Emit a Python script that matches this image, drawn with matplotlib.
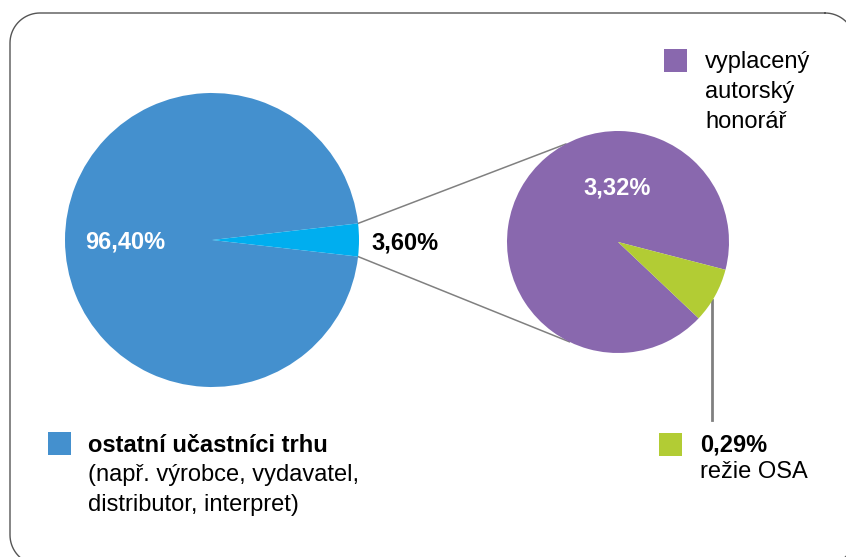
#!/usr/bin/env python3
"""Pie-of-pie: share of author royalties in the market."""

import numpy as np
import matplotlib

matplotlib.use("Agg")
import matplotlib.pyplot as plt  # noqa: E402
from matplotlib.patches import Rectangle  # noqa: E402

# data
main_labels = ["ostatní učastníci trhu", "ostatní"]
main_values = [96.40, 3.60]
main_text = ["96,40%", "3,60%"]
sub_values = [3.32, 0.29]
sub_text = ["3,32%", "0,29%"]

BLUE = "#4490CE"
CYAN = "#00AEEF"
PURPLE = "#8968AE"
GREEN = "#B2CC34"
GRAY = "#808080"

W, H = 846, 557
plt.rcParams["font.family"] = ["Liberation Sans", "DejaVu Sans"]

fig = plt.figure(figsize=(W / 100, H / 100), dpi=100)
ax = fig.add_axes([0, 0, 1, 1])


def py(y):
    # pixel row (from top) -> data y
    return H - y


def rounded_box(x0, y0, x1, y1, r, n=20):
    # corners traced clockwise in pixel coords (y down)
    xs, ys = [], []
    corners = [((x1 - r, y0 + r), -90, 0), ((x1 - r, y1 - r), 0, 90),
               ((x0 + r, y1 - r), 90, 180), ((x0 + r, y0 + r), 180, 270)]
    for (cx, cy), a0, a1 in corners:
        t = np.deg2rad(np.linspace(a0, a1, n))
        xs.extend(cx + r * np.cos(t))
        ys.extend(cy + r * np.sin(t))
    xs.append(xs[0])
    ys.append(ys[0])
    return np.array(xs), np.array(ys)


# frame
bx, by = rounded_box(10, 13, 855, 565, 30)
ax.plot(bx, [py(v) for v in by], color="#555555", lw=1.0, clip_on=False)

# big pie
c1, r1 = (212, py(240)), 147
share = main_values[1] / sum(main_values) * 360
ax.pie(main_values, colors=[BLUE, CYAN], center=c1, radius=r1,
       startangle=share / 2, counterclock=True, frame=True,
       wedgeprops=dict(linewidth=0))

# small pie
c2, r2 = (618, py(242)), 111
ax.pie(sub_values, colors=[PURPLE, GREEN], center=c2, radius=r2,
       startangle=-14.5, counterclock=True, frame=True,
       wedgeprops=dict(linewidth=0))
ax.set_xlim(0, W)
ax.set_ylim(0, H)
ax.set_aspect("equal")
ax.axis("off")

# connector lines
half = np.deg2rad(share / 2)
for sgn, ang in ((1, 118), (-1, -116)):
    x0 = c1[0] + r1 * np.cos(half)
    y0 = c1[1] + sgn * r1 * np.sin(half)
    x1 = c2[0] + r2 * np.cos(np.deg2rad(ang))
    y1 = c2[1] + r2 * np.sin(np.deg2rad(ang))
    ax.plot([x0, x1], [y0, y1], color=GRAY, lw=1.1, zorder=0.5)

# leader to the green slice
ax.plot([712, 712], [py(300), py(420)], color=GRAY, lw=2, zorder=0.5)

fs = 17
ax.text(125, py(242), main_text[0], color="white", fontsize=fs, fontweight="bold",
        ha="center", va="center")
ax.text(405, py(243), main_text[1], color="black", fontsize=fs, fontweight="bold",
        ha="center", va="center")
ax.text(617, py(188), sub_text[0], color="white", fontsize=fs, fontweight="bold",
        ha="center", va="center")

# legend squares
for x, y, col in ((48, 432, BLUE), (664, 49, PURPLE), (659, 433, GREEN)):
    ax.add_patch(Rectangle((x, py(y + 23)), 23, 23, fc=col, ec="none"))

lh = 30
ax.text(88, py(445), main_labels[0], fontsize=fs, fontweight="bold", va="center")
ax.text(88, py(445 + lh), "(např. výrobce, vydavatel,", fontsize=fs, va="center")
ax.text(88, py(445 + 2 * lh), "distributor, interpret)", fontsize=fs, va="center")

for i, s in enumerate(["vyplacený", "autorský", "honorář"]):
    ax.text(705, py(62 + i * lh), s, fontsize=fs, va="center")

ax.text(700, py(445), sub_text[1], fontsize=fs, fontweight="bold", va="center")
ax.text(700, py(445 + lh - 3), "režie OSA", fontsize=fs, va="center")

fig.savefig("out.png", dpi=100)
